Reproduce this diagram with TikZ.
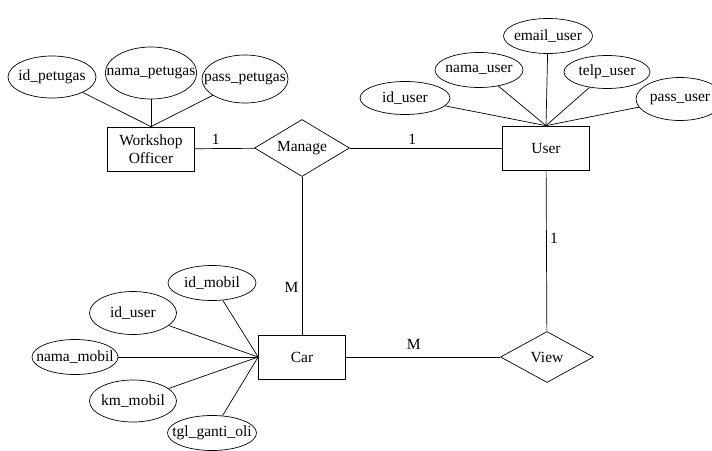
\documentclass[tikz,border=0pt]{standalone}
\usepackage{fontspec}
\setmainfont{Liberation Serif}
\newfontfamily\erfont{Liberation Serif}
\usepackage{tikz}
\usetikzlibrary{shapes.geometric}

\begin{document}
\begin{tikzpicture}[x=1pt, y=-1pt, line width=0.7pt,
  every node/.style = {font=\erfont\fontsize{15.5}{18}\selectfont},
  entity/.style = {draw, rectangle, align=center, minimum width=87pt, minimum height=44pt},
  attr/.style = {draw, ellipse, inner xsep=-12pt, inner ysep=0pt, minimum width=88pt, minimum height=35pt},
  rel/.style = {draw, diamond, aspect=1.7, inner sep=0pt, minimum width=95pt, minimum height=57pt}]
  \useasboundingbox (0,0) rectangle (712,450);
  \node[entity] (off) at (151,149) {Workshop\\Officer};
  \node[attr, minimum height=42pt] (idp) at (52,77) {id\_petugas};
  \node[attr, minimum height=52pt] (namap) at (151,73) {nama\_petugas};
  \node[attr, minimum width=86pt, minimum height=48pt] (passp) at (245,79) {pass\_petugas};
  \node[rel] (manage) at (302,148) {Manage};
  \node[entity] (user) at (546,148) {User};
  \node[attr, minimum width=90pt, minimum height=33pt] (idu) at (405,98) {id\_user};
  \node[attr] (namau) at (479,70) {nama\_user};
  \node[attr, minimum width=89pt] (emailu) at (548,36) {email\_user};
  \node[attr, minimum width=86pt, minimum height=33pt] (telpu) at (607,72) {telp\_user};
  \node[attr, minimum height=43pt] (passu) at (680,99) {pass\_user};
  \node[entity] (car) at (302,357) {Car};
  \node[attr] (idm) at (212,283) {id\_mobil};
  \node[attr, minimum width=87pt, minimum height=43pt] (idcu) at (133,313) {id\_user};
  \node[attr, minimum width=86pt] (namam) at (75,357) {nama\_mobil};
  \node[attr, minimum width=87pt, minimum height=42pt] (kmm) at (133,401) {km\_mobil};
  \node[attr, minimum width=89pt] (tgl) at (212,433) {tgl\_ganti\_oli};
  \node[rel, minimum width=93pt, minimum height=51pt] (view) at (547,357) {View};
  \draw (idp) -- (off.north);
  \draw (namap) -- (off.north);
  \draw (passp) -- (off.north);
  \draw (idu) -- (user.north);
  \draw (namau) -- (user.north);
  \draw (emailu) -- (user.north);
  \draw (telpu) -- (user.north);
  \draw (passu) -- (user.north);
  \draw (idm) -- (car.west);
  \draw (idcu) -- (car.west);
  \draw (namam) -- (car.west);
  \draw (kmm) -- (car.west);
  \draw (tgl) -- (car.west);
  \draw (off) -- node[above, pos=0.35] {1} (manage);
  \draw (manage) -- node[above, pos=0.41] {1} (user);
  \draw (user) -- node[right, pos=0.42] {1} (view);
  \draw (manage) -- node[left, pos=0.7] {M} (car);
  \draw (car) -- node[above=4pt, pos=0.44] {M} (view);
\end{tikzpicture}
\end{document}
